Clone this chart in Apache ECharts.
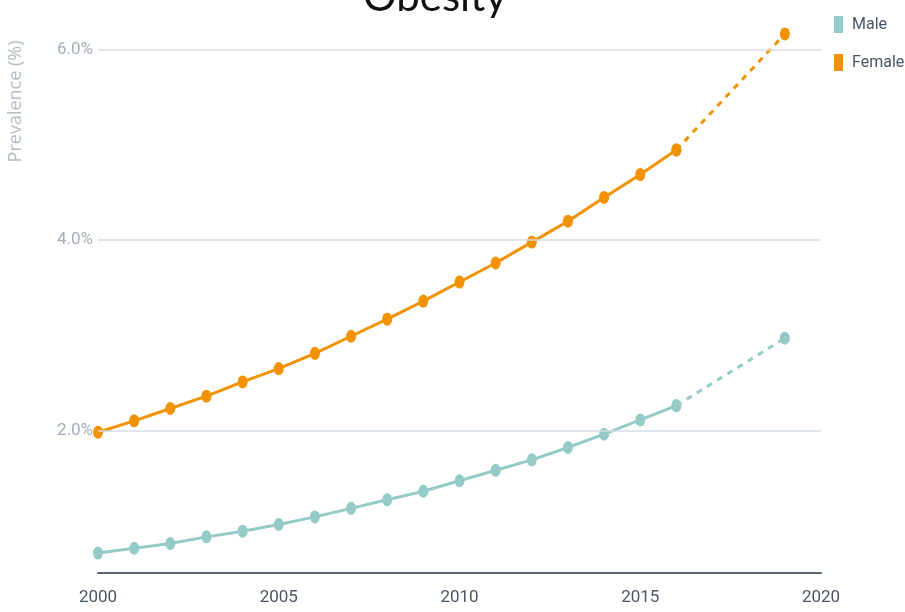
<!DOCTYPE html>
<html>
<head>
<meta charset="utf-8">
<script src="https://cdn.jsdelivr.net/npm/echarts@6/dist/echarts.min.js"></script>
<style>html,body{margin:0;padding:0;background:#fff;}#c{width:905px;height:612px;}</style>
</head>
<body>
<div id="c"></div>
<script>
const years = [2000,2001,2002,2003,2004,2005,2006,2007,2008,2009,2010,2011,2012,2013,2014,2015,2016];
const maleValues = [0.71,0.76,0.81,0.88,0.94,1.01,1.09,1.18,1.27,1.36,1.47,1.58,1.69,1.82,1.96,2.11,2.26];
const femaleValues = [1.98,2.10,2.23,2.36,2.51,2.65,2.81,2.99,3.17,3.36,3.56,3.76,3.98,4.20,4.45,4.69,4.95];
const projYears = [2016, 2019];
const maleProj = [2.26, 2.97];
const femaleProj = [4.95, 6.17];
const yTicks = [2, 4, 6];
const xTicks = [2000, 2005, 2010, 2015, 2020];

const MALE = '#94cbc8', FEMALE = '#f39200';
const FONT = 'Roboto, Lato, sans-serif';
const pairs = (xs, ys) => xs.map((x, i) => [x, ys[i]]);

const chart = echarts.init(document.getElementById('c'));
const solid = (name, color, xs, ys, extra) => Object.assign({
  name, type: 'line', data: pairs(xs, ys), color,
  symbol: 'circle', symbolSize: [10, 13],
  lineStyle: { color, width: 3 }, itemStyle: { color },
  animation: false, z: 3
}, extra || {});

chart.setOption({
  animation: false,
  title: {
    text: 'Obesity', left: 358, top: -29,
    textStyle: { fontFamily: 'Lato', fontWeight: 'normal', fontSize: 42, color: '#111' }
  },
  legend: {
    orient: 'vertical', left: 829, top: 11,
    itemWidth: 9, itemHeight: 17, itemGap: 21,
    icon: 'rect',
    data: [{ name: 'Male', itemStyle: { color: MALE } }, { name: 'Female', itemStyle: { color: FEMALE } }],
    textStyle: { fontFamily: FONT, fontSize: 16, color: '#4a5563', padding: [0, 0, 0, 4] }
  },
  grid: { left: 98, right: 84, top: 2.5, bottom: 39 },
  xAxis: {
    type: 'value', min: 2000, max: 2020, interval: 5,
    axisLine: { show: true, lineStyle: { color: '#5a6573', width: 2 } },
    axisTick: { show: false },
    splitLine: { show: false },
    axisLabel: { fontFamily: FONT, fontSize: 17, color: '#4a5563', margin: 16,
      formatter: v => String(v) }
  },
  yAxis: {
    type: 'value', min: 0.5, max: 6.5, interval: 0.5,
    name: 'Prevalence (%)', nameLocation: 'end', nameRotate: 90,
    nameGap: 0,
    nameTextStyle: { fontFamily: 'Open Sans', fontSize: 18, color: '#b3bcc7', align: 'right', verticalAlign: 'bottom', padding: [0, 38, 73, 0] },
    axisLine: { show: false }, axisTick: { show: false }, splitLine: { show: false },
    axisLabel: {
      fontFamily: FONT, fontSize: 17, color: '#a3adbb', margin: 5,
      formatter: v => (yTicks.indexOf(v) >= 0 ? v.toFixed(1) + '%' : '')
    }
  },
  series: [
    solid('Male', MALE, years, maleValues, {
      markLine: {
        silent: true, symbol: 'none', label: { show: false },
        lineStyle: { color: '#d3dce6', type: 'solid', width: 1.5 },
        data: yTicks.map(v => ({ yAxis: v }))
      }, z: 3
    }),
    solid('Male', MALE, projYears, maleProj, { lineStyle: { color: MALE, width: 3, type: [6, 6] } }),
    solid('Female', FEMALE, years, femaleValues),
    solid('Female', FEMALE, projYears, femaleProj, { lineStyle: { color: FEMALE, width: 3, type: [6, 6] } })
  ]
});
</script>
</body>
</html>
